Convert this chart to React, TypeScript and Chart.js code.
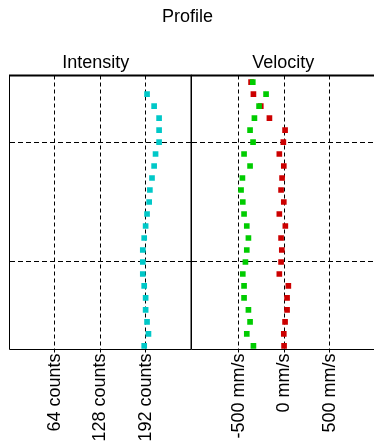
import { useEffect, useRef } from "react";
import { Chart, registerables } from "chart.js";

Chart.register(...registerables);

// Depth cells (top to bottom)
const cells = [1, 2, 3, 4, 5, 6, 7, 8, 9, 10, 11, 12, 13, 14, 15, 16, 17, 18, 19, 20, 21, 22, 23];
// Intensity (counts); first cell has no value
const intensity = [null, 194, 204, 211, 211, 211, 206, 204, 201, 198, 197, 194, 192, 190, 188, 188, 188, 190, 192, 192, 194, 196, 190];
// Velocity components (mm/s)
const velocityGreen = [-344, -198, -275, -326, -374, -341, -440, -374, -458, -473, -454, -440, -410, -392, -410, -425, -454, -440, -440, -392, -374, -410, -337];
const velocityRed = [-363, -337, -256, -161, 11, -8, -52, -3, -22, -33, -3, -52, 14, -33, -25, -33, -52, 47, 33, 33, 11, -3, 0];
// Tick values
const intensityTicks = [64, 128, 192];
const velocityTicks = [-500, 0, 500];
const depthTicks = [6, 16];

const FONT = "'Liberation Sans', Arial, sans-serif";

const framePlugin = {
  id: "frame",
  afterDraw(chart: any) {
    const { ctx, chartArea } = chart;
    const { left, right, top, bottom } = chartArea;
    ctx.save();
    ctx.strokeStyle = "#000";
    ctx.setLineDash([]);
    ctx.lineWidth = 1;
    ctx.beginPath();
    ctx.moveTo(left, top);
    ctx.lineTo(left, bottom);
    ctx.lineTo(right, bottom);
    ctx.lineTo(right, top);
    ctx.stroke();
    ctx.lineWidth = 2;
    ctx.beginPath();
    ctx.moveTo(left - 0.5, top);
    ctx.lineTo(right + 0.5, top);
    ctx.stroke();
    ctx.restore();
  },
};

function xScale(min: number, max: number, ticks: number[], unit: string) {
  return {
    type: "linear",
    position: "bottom",
    min,
    max,
    afterBuildTicks: (s: any) => {
      s.ticks = ticks.map((v) => ({ value: v }));
    },
    afterFit: (s: any) => {
      s.height = 95.5;
    },
    border: { display: false, dash: [4, 3] },
    grid: {
      color: "#000",
      lineWidth: 1,
      tickBorderDash: [],
      tickLength: 3,
      drawTicks: true,
    },
    ticks: {
      color: "#000",
      font: { family: FONT, size: 18 },
      minRotation: 90,
      maxRotation: 90,
      padding: 1,
      autoSkip: false,
      callback: (v: any) => `${v} ${unit}`,
    },
  };
}

function yScale(width: number) {
  return {
    type: "linear",
    reverse: true,
    min: 0.45,
    max: 23.3,
    afterBuildTicks: (s: any) => {
      s.ticks = depthTicks.map((v) => ({ value: v }));
    },
    afterFit: (s: any) => {
      s.width = width;
    },
    border: { display: false, dash: [5, 3] },
    grid: { color: "#000", lineWidth: 1, drawTicks: false },
    ticks: { display: false },
  };
}

function points(xs: (number | null)[]) {
  return cells.map((c, i) => ({ x: xs[i], y: c })).filter((p) => p.x !== null);
}

function ds(label: string, xs: (number | null)[], color: string) {
  return {
    label,
    data: points(xs),
    showLine: false,
    pointStyle: "rect",
    pointRadius: 4,
    pointBorderWidth: 0,
    backgroundColor: color,
    borderColor: color,
  };
}

export default function App() {
  const leftRef = useRef<HTMLCanvasElement>(null);
  const rightRef = useRef<HTMLCanvasElement>(null);

  useEffect(() => {
    const left = new Chart(leftRef.current as HTMLCanvasElement, {
      type: "scatter",
      data: { datasets: [ds("Intensity", intensity, "#00C8C8")] as any },
      options: {
        responsive: false,
        animation: false,
        layout: { padding: { left: 0, right: 3.5, top: 0, bottom: 0 } },
        scales: {
          x: xScale(0, 256, intensityTicks, "counts") as any,
          y: yScale(9.5) as any,
        },
        plugins: {
          legend: { display: false },
          tooltip: { enabled: false },
          title: {
            display: true,
            text: "Intensity",
            color: "#000",
            fullSize: true,
            font: { family: FONT, size: 18, weight: "normal" },
            padding: { top: 52.7, bottom: 1.2 },
          },
        },
      },
      plugins: [framePlugin],
    });

    const right = new Chart(rightRef.current as HTMLCanvasElement, {
      type: "scatter",
      data: {
        datasets: [
          ds("Velocity green", velocityGreen, "#00CC00"),
          ds("Velocity red", velocityRed, "#CC0000"),
        ] as any,
      },
      options: {
        responsive: false,
        animation: false,
        layout: { padding: { left: 0, right: 4, top: 0, bottom: 0 } },
        scales: {
          x: xScale(-1018, 1000, velocityTicks, "mm/s") as any,
          y: yScale(191.5) as any,
        },
        plugins: {
          legend: { display: false },
          tooltip: { enabled: false },
          title: {
            display: true,
            text: "Profile",
            color: "#000",
            fullSize: true,
            font: { family: FONT, size: 18, weight: "normal" },
            padding: { top: 5.9, bottom: 0 },
          },
          subtitle: {
            display: true,
            text: "Velocity",
            color: "#000",
            fullSize: false,
            font: { family: FONT, size: 18, weight: "normal" },
            padding: { top: 25.2, bottom: 1.2 },
          },
        },
      },
      plugins: [framePlugin],
    });

    return () => {
      left.destroy();
      right.destroy();
    };
  }, []);

  return (
    <div
      style={{
        position: "absolute",
        left: 0,
        top: 0,
        width: 374,
        height: 445,
        overflow: "hidden",
        background: "#fff",
      }}
    >
      <canvas ref={rightRef} width={379} height={445} style={{ position: "absolute", left: 0, top: 0 }} />
      <canvas ref={leftRef} width={195} height={445} style={{ position: "absolute", left: 0, top: 0 }} />
    </div>
  );
}
